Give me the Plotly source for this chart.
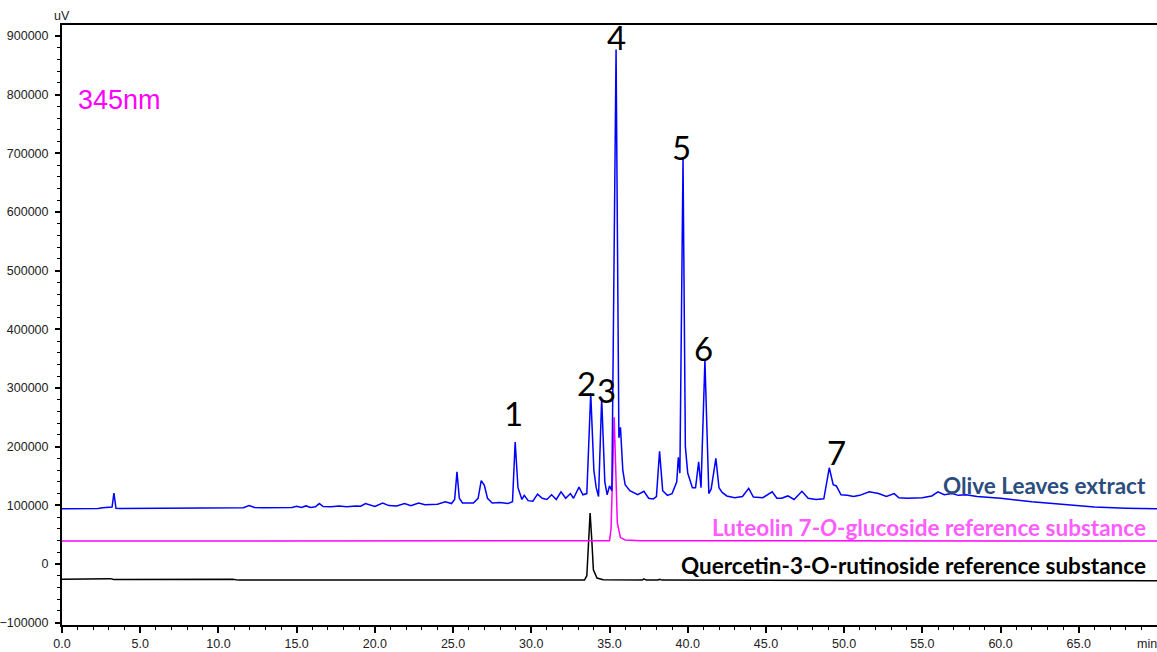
import plotly.graph_objects as go

# ---- data (time in min, signal in uV) ----
olive_t = [0, 2.3, 2.6, 3.0, 3.2, 3.32, 3.45, 3.7, 11.0, 11.6, 11.96, 12.3, 12.8, 14.7, 15.0, 15.3,
           15.6, 15.9, 16.2, 16.45, 16.7, 17.2, 17.7, 18.2, 18.8, 19.1, 19.4, 19.7, 20.0, 20.5, 20.9,
           21.4, 21.9, 22.3, 22.8, 23.2, 24.0, 24.5, 24.9, 25.1, 25.25, 25.4, 25.6, 26.3, 26.6, 26.8,
           27.0, 27.2, 27.5, 28.0, 28.5, 28.8, 28.97, 29.15, 29.4, 29.55, 29.8, 30.1, 30.4, 30.7, 31.0,
           31.3, 31.6, 31.9, 32.2, 32.5, 32.7, 33.05, 33.3, 33.55, 33.8, 34.0, 34.15, 34.3, 34.5, 34.7,
           34.85, 35.0, 35.15, 35.42, 35.6, 35.7, 35.85, 36.0, 36.3, 36.8, 37.2, 37.5, 37.8, 38.0, 38.2,
           38.4, 38.7, 39.0, 39.3, 39.4, 39.5, 39.7, 39.85, 40.0, 40.3, 40.5, 40.7, 40.85, 41.1, 41.35,
           41.5, 41.8, 42.0, 42.2, 42.5, 43.0, 43.5, 43.9, 44.2, 44.8, 45.4, 45.7, 46.0, 46.4, 46.8,
           47.3, 47.7, 48.2, 48.7, 49.05, 49.3, 49.5, 49.8, 50.2, 50.6, 51.0, 51.6, 52.2, 52.7, 53.2,
           53.5, 54.0, 55.0, 55.6, 56.0, 56.4, 56.9, 57.3, 57.8, 58.5, 60.0, 62.0, 64.0, 66.0, 68.0, 70.0]
olive_v = [94000, 94500, 96000, 96500, 97000, 121000, 95000, 94500, 95000, 96000, 99500, 96500, 96000,
           96500, 98500, 96500, 99000, 96500, 97500, 103000, 98000, 97500, 99000, 97500, 99000, 98500,
           103000, 100500, 98000, 104000, 99500, 99000, 103000, 99500, 104000, 101000, 102000, 106000,
           103000, 110000, 157000, 112000, 104000, 104000, 112000, 142000, 134000, 112000, 104000,
           105000, 103000, 106000, 208000, 130000, 110000, 117000, 108000, 107000, 119000, 112000,
           110000, 118000, 110000, 123000, 112000, 120000, 112000, 131000, 118000, 120000, 291000,
           160000, 130000, 115000, 283000, 140000, 118000, 133000, 125000, 877000, 215000, 233000,
           160000, 135000, 125000, 118000, 124000, 112000, 111000, 115000, 192000, 125000, 117000,
           120000, 140000, 182000, 155000, 691000, 200000, 155000, 130000, 130000, 174000, 130000,
           347000, 120000, 128000, 180000, 130000, 122000, 116000, 113000, 115000, 129000, 114000,
           113000, 123000, 112000, 112000, 116000, 110000, 124000, 112000, 110000, 111000, 164000,
           135000, 133000, 118000, 117000, 115000, 117000, 123000, 120000, 115000, 120000, 113000,
           112000, 113000, 116000, 123000, 118000, 120000, 117000, 118000, 115000, 112000, 106000,
           101000, 97000, 95000, 94000]

lut_t = [0, 10, 20, 30, 35.0, 35.1, 35.2, 35.3, 35.4, 35.5, 35.7, 36.0, 37.0, 50, 70]
lut_v = [39200, 39000, 39200, 39200, 39500, 60000, 180000, 250000, 160000, 70000, 45000, 41000,
         39800, 39200, 39200]

quer_t = [0, 3.0, 3.1, 3.3, 10.9, 11.3, 20, 33.4, 33.55, 33.65, 33.76, 33.87, 33.97, 34.2, 34.6,
          37.1, 37.2, 37.35, 38.1, 38.2, 38.35, 50, 70]
quer_v = [-26000, -26000, -25000, -26500, -26200, -27500, -27500, -27500, -20000, 40000, 87000,
          40000, -10000, -24000, -27000, -27500, -25500, -27500, -27500, -26000, -27500, -28000,
          -28500]

peak_labels = ["1", "2", "3", "4", "5", "6", "7"]
peak_label_t = [28.84, 33.5, 34.8, 35.42, 39.6, 40.98, 49.5]
peak_label_v = [257000, 308000, 296000, 899000, 711000, 368000, 191000]

trace_names = ["Olive Leaves extract",
               "Luteolin 7-<i>O</i>-glucoside reference substance",
               "Quercetin-3-O-rutinoside reference substance"]
trace_label_v = [133000, 63000, -2000]
trace_label_colors = ["#2B4C7E", "#FF5CFF", "#000000"]

x_tick_vals = [0, 5, 10, 15, 20, 25, 30, 35, 40, 45, 50, 55, 60, 65]
x_tick_text = ["0.0", "5.0", "10.0", "15.0", "20.0", "25.0", "30.0", "35.0", "40.0",
               "45.0", "50.0", "55.0", "60.0", "65.0"]

fig = go.Figure()
fig.add_trace(go.Scatter(x=quer_t, y=quer_v, mode="lines", line=dict(color="black", width=1.5),
                         showlegend=False))
fig.add_trace(go.Scatter(x=lut_t, y=lut_v, mode="lines", line=dict(color="#FF00FF", width=1.5),
                         showlegend=False))
fig.add_trace(go.Scatter(x=olive_t, y=olive_v, mode="lines", line=dict(color="#0000FF", width=1.5),
                         showlegend=False))

label_font = "Lato, Open Sans, sans-serif"
for lab, t, v in zip(peak_labels, peak_label_t, peak_label_v):
    fig.add_annotation(x=t, y=v, xref="x", yref="y", text=lab, showarrow=False,
                       font=dict(family=label_font, size=33, color="black"))

for name, v, c in zip(trace_names, trace_label_v, trace_label_colors):
    fig.add_annotation(x=0.992, y=v, xref="paper", yref="y", text="<b>" + name + "</b>",
                       showarrow=False, xanchor="right",
                       font=dict(family=label_font, size=22.5, color=c))

fig.add_annotation(x=0.9, y=791000, xref="x", yref="y", text="345nm", showarrow=False,
                   xanchor="left",
                   font=dict(family="Liberation Sans Narrow, Liberation Sans, Arial",
                             size=27, color="#FF00FF"))
fig.add_annotation(x=0.0, y=1.0, xref="paper", yref="paper", text="uV", showarrow=False,
                   xanchor="center", yanchor="bottom", yshift=0,
                   font=dict(family="Liberation Sans", size=12.5, color="#222"))
fig.add_annotation(x=0.991, y=0.0, xref="paper", yref="paper", text="min", showarrow=False,
                   xanchor="center", yanchor="top", yshift=-10,
                   font=dict(family="Liberation Sans", size=12.5, color="#222"))

fig.update_layout(
    width=1157, height=652,
    margin=dict(l=62, r=0, t=25, b=27),
    paper_bgcolor="white", plot_bgcolor="white",
    font=dict(family="Liberation Sans", size=12.5, color="#222"),
)
fig.update_xaxes(range=[0, 70], showgrid=False, zeroline=False,
                 showline=True, linecolor="black", linewidth=2, mirror=True,
                 ticks="outside", ticklen=6, tickwidth=1.5, tickcolor="black",
                 minor=dict(dtick=1, ticks="outside", ticklen=3, tickcolor="black", tickwidth=1),
                 tickvals=x_tick_vals, ticktext=x_tick_text)
fig.update_yaxes(range=[-104000, 918750], tick0=0, dtick=100000, showgrid=False, zeroline=False,
                 showline=True, linecolor="black", linewidth=2,
                 ticks="outside", ticklen=5, tickwidth=1.5, tickcolor="black",
                 minor=dict(dtick=20000, ticks="outside", ticklen=3, tickcolor="black", tickwidth=1),
                 tickformat="d", ticklabelstandoff=4)

fig.write_html("out.html", config={"displayModeBar": False},
               post_script="document.body.style.margin='0px';")
